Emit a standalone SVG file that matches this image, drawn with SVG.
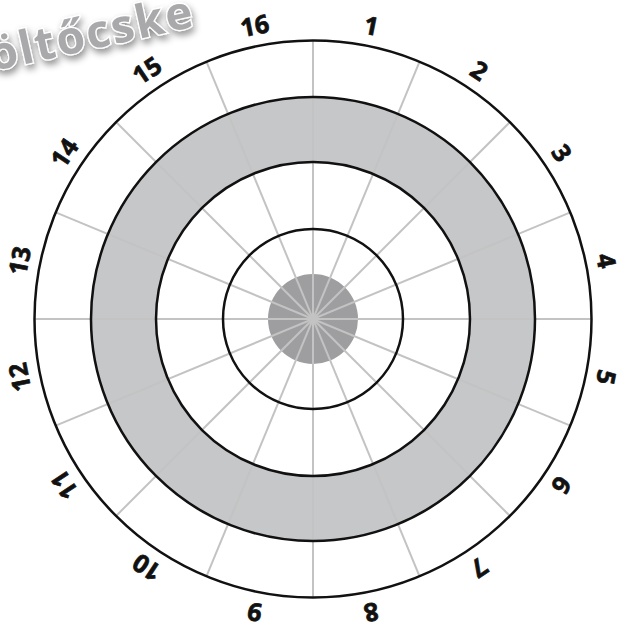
<svg xmlns="http://www.w3.org/2000/svg" width="619" height="628" viewBox="0 0 619 628">
<style>
.ring{fill:none;stroke:#111;stroke-width:2.5}
.spoke{stroke:#c3c3c3;stroke-width:2}
.lbl{font-family:"Open Sans","Liberation Sans",sans-serif;font-weight:bold;font-size:25px;fill:#111;stroke:#111;stroke-width:0.7;text-anchor:middle}
.wm{font-family:"Open Sans","Liberation Sans",sans-serif;font-weight:bold;font-size:46px;letter-spacing:2px;fill:#a9a9ab;stroke:#fff;stroke-width:2.5;paint-order:stroke}
</style>
<defs>
<filter id="sh" x="-20%" y="-50%" width="140%" height="200%">
<feDropShadow dx="2" dy="4" stdDeviation="3.5" flood-color="#000" flood-opacity="0.45"/>
</filter>
</defs>
<rect width="619" height="628" fill="#fff"/>
<g id="board">
<circle cx="313" cy="319" r="278.5" fill="#fff"/>
<circle cx="313" cy="319" r="222" fill="#c6c7c9"/>
<circle cx="313" cy="319" r="157" fill="#fff"/>
<circle cx="313" cy="319" r="45" fill="#9e9ea0"/>
</g>
<g id="connectors">
<g transform="translate(313 319)">
<line class="spoke" x1="0" y1="-278.5" x2="0" y2="278.5"/>
<line class="spoke" x1="0" y1="-278.5" x2="0" y2="278.5" transform="rotate(22.5)"/>
<line class="spoke" x1="0" y1="-278.5" x2="0" y2="278.5" transform="rotate(45)"/>
<line class="spoke" x1="0" y1="-278.5" x2="0" y2="278.5" transform="rotate(67.5)"/>
<line class="spoke" x1="0" y1="-278.5" x2="0" y2="278.5" transform="rotate(90)"/>
<line class="spoke" x1="0" y1="-278.5" x2="0" y2="278.5" transform="rotate(112.5)"/>
<line class="spoke" x1="0" y1="-278.5" x2="0" y2="278.5" transform="rotate(135)"/>
<line class="spoke" x1="0" y1="-278.5" x2="0" y2="278.5" transform="rotate(157.5)"/>
</g>
</g>
<g id="rings">
<circle class="ring" cx="313" cy="319" r="278.5"/>
<circle class="ring" cx="313" cy="319" r="222"/>
<circle class="ring" cx="313" cy="319" r="157"/>
<circle class="ring" cx="313" cy="319" r="90"/>
</g>
<g id="labels" transform="translate(313 319)">
<text class="lbl" x="0" y="-290" transform="rotate(11.25)">1</text>
<text class="lbl" x="0" y="-290" transform="rotate(33.75)">2</text>
<text class="lbl" x="0" y="-290" transform="rotate(56.25)">3</text>
<text class="lbl" x="0" y="-290" transform="rotate(78.75)">4</text>
<text class="lbl" x="0" y="-290" transform="rotate(101.25)">5</text>
<text class="lbl" x="0" y="-290" transform="rotate(123.75)">6</text>
<text class="lbl" x="0" y="-290" transform="rotate(146.25)">7</text>
<text class="lbl" x="0" y="-290" transform="rotate(168.75)">8</text>
<text class="lbl" x="0" y="-290" transform="rotate(191.25)">9</text>
<text class="lbl" x="0" y="-290" transform="rotate(213.75)">10</text>
<text class="lbl" x="0" y="-290" transform="rotate(236.25)">11</text>
<text class="lbl" x="0" y="-290" transform="rotate(258.75)">12</text>
<text class="lbl" x="0" y="-290" transform="rotate(281.25)">13</text>
<text class="lbl" x="0" y="-290" transform="rotate(303.75)">14</text>
<text class="lbl" x="0" y="-290" transform="rotate(326.25)">15</text>
<text class="lbl" x="0" y="-290" transform="rotate(348.75)">16</text>
</g>
<g id="watermark" filter="url(#sh)">
<text class="wm" x="197" y="26" text-anchor="end" transform="rotate(-12.5 197 26)">töltőcske</text>
</g>
</svg>
